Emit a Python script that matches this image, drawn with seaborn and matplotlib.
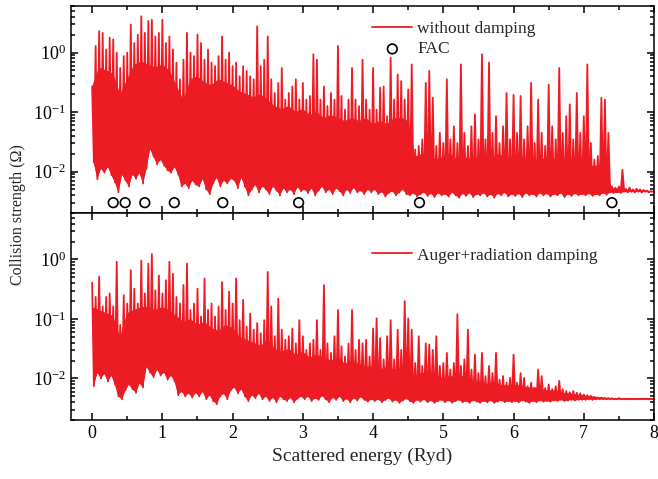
# Collision strength vs scattered energy, two stacked panels (no damping / with damping)

import numpy as np
import pandas as pd
import matplotlib
matplotlib.use("Agg")
import matplotlib.pyplot as plt
import matplotlib.ticker as mticker
import seaborn as sns

# energy grid: peaks every 0.05 Ryd, valleys halfway between,
# upper edge of the dense resonance band every 0.1 Ryd
peak_energy = np.round(np.arange(0, 8.001, 0.05), 3)
valley_energy = np.round(peak_energy[:-1] + 0.025, 3)
core_energy = np.round(np.arange(0, 8.001, 0.1), 3)

# log10(Omega) (without damping)
top_peak_log = [
    -0.57, 0.11, 0.36, 0.33, 0.05, 0.25, 0.22, 0.00, -0.26, -0.06,
    0.00, 0.47, 0.16, 0.30, 0.61, 0.33, 0.53, 0.55, 0.27, 0.33,
    0.55, 0.16, 0.27, 0.05, -0.17, -0.45, -0.12, 0.33, 0.00, -0.06,
    0.30, 0.16, -0.12, 0.05, -0.17, -0.23, -0.06, 0.27, -0.12, 0.00,
    -0.23, -0.17, -0.40, -0.23, -0.31, -0.40, -0.45, 0.44, -0.23, -0.12,
    0.27, -0.45, -0.68, -0.51, -0.26, -0.79, -0.68, -0.57, -0.45, -0.79,
    -0.51, -0.79, -0.73, -0.03, -0.12, -0.79, -0.57, -0.90, -0.68, -0.79,
    0.11, -0.73, -0.96, -0.79, -0.26, -0.79, -0.90, -0.12, -0.79, -0.96,
    -0.26, -0.96, -0.59, -0.57, -1.07, -0.09, -0.79, -0.37, -0.48, -0.79,
    -0.62, -0.20, -1.63, -1.57, -1.46, -0.51, -0.31, -0.76, -1.57, -1.35,
    -1.52, -0.45, -1.46, -1.24, -1.52, -0.20, -1.35, -1.57, -1.24, -1.04,
    -1.46, -0.03, -1.46, -0.17, -1.35, -1.07, -1.52, -1.24, -0.68, -1.46,
    -0.71, -1.35, -0.73, -1.46, -1.24, -0.51, -1.52, -0.79, -1.35, -1.57,
    -0.54, -1.24, -1.46, -0.26, -1.35, -1.07, -0.87, -1.46, -0.68, -1.35,
    -1.07, -0.20, -1.52, -1.80, -1.74, -0.76, -0.79, -1.35, -2.25, -2.27,
    -2.25, -1.97, -2.29, -2.27, -2.30, -2.29, -2.30, -2.31, -2.32, -2.33,
    -2.33,
]
top_valley_log = [
    -1.85, -2.13, -1.95, -2.02, -1.92, -2.06, -2.18, -2.35, -2.05, -2.15,
    -2.25, -2.05, -2.12, -2.02, -2.20, -1.95, -1.62, -1.75, -1.88, -1.80,
    -1.90, -1.98, -2.02, -1.92, -2.05, -2.25, -2.20, -2.28, -2.15, -2.22,
    -2.25, -2.12, -2.30, -2.38, -2.20, -2.10, -2.25, -2.15, -2.20, -2.12,
    -2.15, -2.28, -2.10, -2.25, -2.40, -2.30, -2.22, -2.35, -2.25, -2.30,
    -2.38, -2.25, -2.32, -2.40, -2.28, -2.35, -2.30, -2.38, -2.26, -2.33,
    -2.30, -2.36, -2.28, -2.40, -2.32, -2.25, -2.35, -2.30, -2.38, -2.28,
    -2.33, -2.40, -2.30, -2.36, -2.27, -2.35, -2.32, -2.38, -2.30, -2.35,
    -2.30, -2.38, -2.34, -2.42, -2.36, -2.33, -2.40, -2.35, -2.30, -2.38,
    -2.40, -2.36, -2.42, -2.38, -2.35, -2.41, -2.37, -2.43, -2.36, -2.40,
    -2.38, -2.42, -2.35, -2.40, -2.44, -2.37, -2.41, -2.36, -2.43, -2.38,
    -2.40, -2.36, -2.42, -2.38, -2.44, -2.37, -2.40, -2.35, -2.42, -2.38,
    -2.41, -2.37, -2.43, -2.36, -2.40, -2.38, -2.42, -2.36, -2.40, -2.37,
    -2.42, -2.38, -2.40, -2.36, -2.43, -2.38, -2.41, -2.37, -2.40, -2.38,
    -2.40, -2.37, -2.41, -2.38, -2.40, -2.36, -2.39, -2.35, -2.36, -2.35,
    -2.36, -2.34, -2.35, -2.34, -2.35, -2.34, -2.35, -2.34, -2.35, -2.34,
]
top_core_log = [
    -0.57, -0.25, -0.30, -0.35, -0.70, -0.45, -0.20, -0.15, -0.20, -0.25,
    -0.20, -0.30, -0.55, -0.80, -0.45, -0.40, -0.50, -0.55, -0.45, -0.50,
    -0.55, -0.65, -0.70, -0.75, -0.70, -0.80, -0.90, -0.95, -0.90, -1.00,
    -0.95, -1.05, -1.00, -1.10, -1.05, -1.10, -1.15, -1.10, -1.15, -1.10,
    -1.20, -1.15, -1.20, -1.10, -1.10, -1.15, -1.75, -1.70, -1.75, -1.80,
    -1.75, -1.70, -1.80, -1.75, -1.80, -1.75, -1.80, -1.75, -1.70, -1.80,
    -1.75, -1.80, -1.75, -1.85, -1.80, -1.75, -1.80, -1.85, -1.80, -1.85,
    -1.80, -1.90, -1.90, -1.85, -2.28, -2.28, -2.30, -2.31, -2.31, -2.32,
    -2.33,
]

# log10(Omega) (Auger + radiation damping)
bot_peak_log = [
    -0.39, -0.63, -0.29, -0.79, -0.63, -0.57, -0.79, -0.04, -1.10, -0.60,
    -0.74, -0.18, -0.49, -0.74, -0.02, -0.57, -0.07, 0.09, -0.52, -0.27,
    -0.57, -0.35, -0.04, -0.24, -0.63, -0.74, -0.43, -0.07, -0.85, -0.74,
    -0.49, -0.96, -0.32, -0.85, -0.74, -0.96, -0.79, -0.38, -0.85, -0.54,
    -0.74, -0.32, -1.02, -0.68, -1.13, -0.91, -1.18, -1.07, -1.24, -1.02,
    -0.21, -0.79, -1.29, -0.66, -1.18, -1.35, -1.29, -1.16, -1.41, -1.02,
    -1.29, -1.52, -1.41, -1.35, -1.02, -1.52, -0.43, -1.41, -1.57, -1.29,
    -0.85, -1.46, -1.63, -1.41, -0.85, -1.52, -1.35, -1.41, -1.35, -1.63,
    -1.16, -0.99, -1.32, -1.68, -1.29, -1.02, -1.68, -1.18, -1.52, -0.70,
    -0.99, -1.18, -1.74, -1.29, -1.79, -1.41, -1.43, -1.52, -1.29, -1.79,
    -1.74, -1.57, -1.85, -1.74, -0.92, -1.79, -1.68, -1.18, -1.85, -1.60,
    -1.91, -1.57, -1.96, -1.79, -1.91, -1.57, -2.02, -1.96, -2.07, -1.99,
    -1.60, -2.07, -1.91, -1.99, -2.13, -2.07, -2.16, -1.85, -1.96, -2.16,
    -2.10, -2.18, -2.13, -2.04, -2.18, -2.21, -2.23, -2.21, -2.24, -2.25,
    -2.27, -2.28, -2.29, -2.31, -2.32, -2.32, -2.33, -2.33, -2.33, -2.34,
    -2.33, -2.34, -2.34, -2.34, -2.34, -2.34, -2.34, -2.34, -2.34, -2.34,
    -2.34,
]
bot_valley_log = [
    -2.13, -1.90, -2.00, -1.92, -2.05, -1.95, -2.10, -2.30, -2.35, -2.20,
    -2.10, -2.18, -2.24, -2.08, -2.15, -1.80, -1.90, -1.98, -1.85, -1.95,
    -1.90, -2.02, -1.95, -2.05, -2.28, -2.22, -2.30, -2.25, -2.32, -2.24,
    -2.30, -2.22, -2.35, -2.28, -2.38, -2.43, -2.30, -2.25, -2.35, -2.20,
    -2.15, -2.25, -2.18, -2.30, -2.38, -2.28, -2.33, -2.25, -2.35, -2.30,
    -2.38, -2.32, -2.40, -2.30, -2.35, -2.38, -2.32, -2.40, -2.34, -2.30,
    -2.35, -2.30, -2.38, -2.33, -2.36, -2.29, -2.35, -2.40, -2.32, -2.36,
    -2.30, -2.38, -2.34, -2.40, -2.33, -2.37, -2.31, -2.36, -2.39, -2.35,
    -2.38, -2.35, -2.40, -2.36, -2.33, -2.39, -2.36, -2.41, -2.37, -2.34,
    -2.38, -2.41, -2.36, -2.39, -2.35, -2.40, -2.37, -2.41, -2.38, -2.36,
    -2.40, -2.37, -2.41, -2.38, -2.36, -2.40, -2.38, -2.41, -2.37, -2.39,
    -2.41, -2.38, -2.40, -2.37, -2.41, -2.39, -2.37, -2.40, -2.38, -2.40,
    -2.38, -2.40, -2.37, -2.39, -2.41, -2.38, -2.40, -2.37, -2.39, -2.38,
    -2.39, -2.37, -2.38, -2.36, -2.38, -2.37, -2.36, -2.37, -2.36, -2.36,
    -2.36, -2.35, -2.36, -2.35, -2.35, -2.35, -2.35, -2.35, -2.35, -2.35,
    -2.35, -2.35, -2.35, -2.35, -2.35, -2.35, -2.35, -2.35, -2.35, -2.35,
]
bot_core_log = [
    -0.80, -0.85, -0.90, -0.95, -1.30, -0.90, -0.85, -0.80, -0.80, -0.85,
    -0.80, -0.85, -0.95, -1.05, -1.00, -1.10, -1.05, -1.15, -1.20, -1.10,
    -1.15, -1.30, -1.35, -1.40, -1.45, -1.35, -1.50, -1.55, -1.50, -1.60,
    -1.55, -1.65, -1.60, -1.65, -1.70, -1.65, -1.75, -1.70, -1.75, -1.80,
    -1.80, -1.85, -1.80, -1.85, -1.80, -1.85, -1.95, -1.90, -1.95, -1.95,
    -2.00, -1.95, -2.00, -1.95, -2.05, -2.05, -2.10, -2.05, -2.10, -2.12,
    -2.10, -2.12, -2.15, -2.15, -2.18, -2.20, -2.20, -2.24, -2.25, -2.27,
    -2.28, -2.30, -2.31, -2.32, -2.33, -2.33, -2.33, -2.33, -2.33, -2.33,
    -2.33,
]

# FAC values
fac_energy = [0.30, 0.47, 0.75, 1.17, 1.86, 2.94, 4.66, 7.40]
fac_omega = [0.003, 0.003, 0.003, 0.003, 0.003, 0.003, 0.003, 0.003]


def spectrum(peaks, valleys):
    e = np.empty(len(peaks) + len(valleys))
    v = np.empty_like(e)
    e[0::2], e[1::2] = peak_energy, valley_energy
    v[0::2], v[1::2] = peaks, valleys
    return pd.DataFrame({"energy": e, "omega": 10 ** v})


df_top = spectrum(top_peak_log, top_valley_log)
df_bot = spectrum(bot_peak_log, bot_valley_log)
df_fac = pd.DataFrame({"energy": fac_energy, "omega": fac_omega})

sns.set_theme(style="ticks")
plt.rcParams["font.family"] = ["Liberation Serif", "DejaVu Serif"]
plt.rcParams["mathtext.fontset"] = "stix"
plt.rcParams["axes.linewidth"] = 1.1

red = "#ED1C24"

fig, (ax1, ax2) = plt.subplots(2, 1, figsize=(6.58, 4.79), dpi=100, sharex=True)
fig.subplots_adjust(left=0.108, right=0.994, top=0.987, bottom=0.123, hspace=0)


def draw(ax, df, valleys, core, label):
    valleys = 10 ** np.asarray(valleys)
    # dense band of overlapping resonances: between the valleys and its upper edge
    ax.fill(np.r_[core_energy, valley_energy[::-1]],
            np.r_[10 ** np.asarray(core), valleys[::-1]],
            color=red, lw=0)
    # each peak filled down to its neighbouring valleys
    ax.fill(np.r_[df["energy"], valley_energy[::-1]],
            np.r_[df["omega"], valleys[::-1]],
            color=red, lw=0)
    sns.lineplot(data=df, x="energy", y="omega", ax=ax, color=red, lw=1.3,
                 sort=False, estimator=None, label=label)


draw(ax1, df_top, top_valley_log, top_core_log, "without damping")
sns.scatterplot(data=df_fac, x="energy", y="omega", ax=ax1, marker="o", s=48,
                facecolor="none", edgecolor="black", linewidth=1.2, label="FAC")
draw(ax2, df_bot, bot_valley_log, bot_core_log, "Auger+radiation damping")

for ax in (ax1, ax2):
    ax.set_yscale("log")
    ax.set_ylim(0.002, 6)
    ax.set_xlim(-0.3, 8)
    ax.xaxis.set_major_locator(mticker.MultipleLocator(1))
    ax.xaxis.set_minor_locator(mticker.MultipleLocator(0.5))
    ax.yaxis.set_minor_locator(mticker.LogLocator(base=10, subs=np.arange(2, 10)))
    ax.yaxis.set_minor_formatter(mticker.NullFormatter())
    ax.tick_params(which="both", direction="in", top=True, right=True,
                   labelsize=13, width=1.1, colors="black")
    ax.tick_params(which="major", length=5)
    ax.tick_params(which="minor", length=3)
    ax.set_xlabel("")
    ax.set_ylabel("")
    for s in ax.spines.values():
        s.set_color("black")

ax1.legend(loc="upper left", bbox_to_anchor=(0.49, 1.005), frameon=False,
           fontsize=12.5, handlelength=2.3, handletextpad=0.3, labelspacing=0.25)
ax2.legend(loc="upper left", bbox_to_anchor=(0.49, 0.91), frameon=False,
           fontsize=12.5, handlelength=2.3, handletextpad=0.3)

ax2.set_xlabel("Scattered energy (Ryd)", fontsize=14)
fig.text(0.028, 0.553, "Collision strength (\u03a9)", rotation=90, fontsize=11.5,
         ha="center", va="center")

fig.savefig("out.png", dpi=100)
